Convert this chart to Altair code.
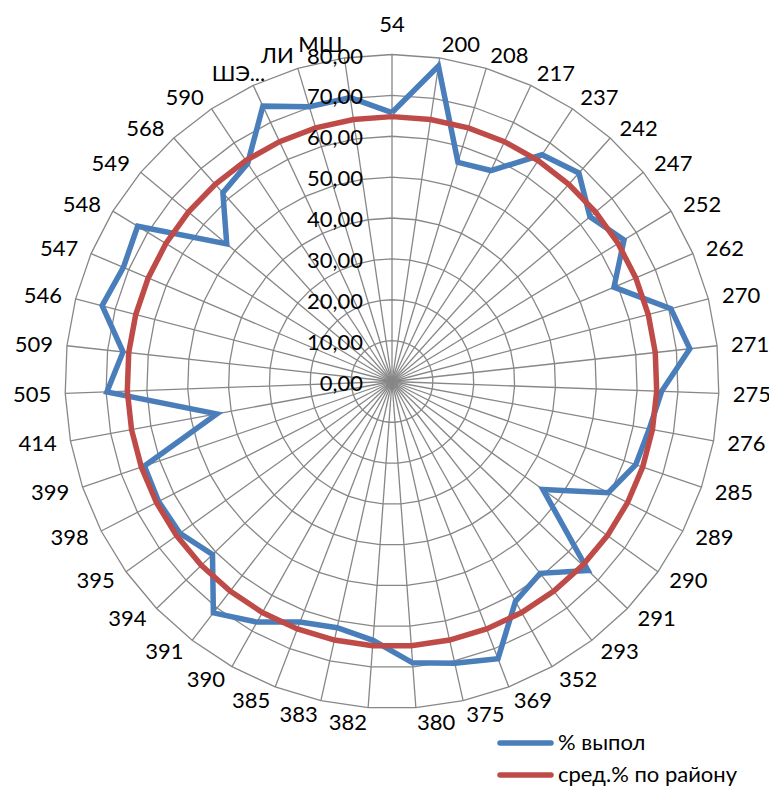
import math
import altair as alt
import pandas as pd

# ---------------- data ----------------
categories = ["54", "200", "208", "217", "237", "242", "247", "252", "262", "270",
              "271", "275", "276", "285", "289", "290", "291", "293", "352", "369",
              "375", "380", "382", "383", "385", "390", "391", "394", "395", "398",
              "399", "414", "505", "509", "546", "547", "548", "549", "568", "590",
              "ШЭ...", "ЛИ", "МШ"]

pct_done = [65.8, 78.0, 56.0, 57.0, 66.5, 68.5, 63.0, 66.5, 59.0, 70.5,
            73.3, 66.0, 64.0, 63.0, 59.5, 45.4, 66.6, 59.3, 61.7, 72.6,
            70.6, 69.0, 63.5, 61.7, 63.0, 67.5, 71.5, 61.0, 63.8, 64.2,
            64.0, 43.6, 69.8, 66.2, 73.3, 71.4, 72.9, 52.6, 62.0, 64.0,
            74.4, 70.2, 70.2]

district_avg = [64.8, 64.8, 64.8, 64.8, 64.8, 64.8, 64.8, 64.8, 64.8, 64.8,
                64.8, 64.8, 64.8, 64.8, 64.8, 64.8, 64.8, 64.8, 64.8, 64.8,
                64.8, 64.8, 64.8, 64.8, 64.8, 64.8, 64.8, 64.8, 64.8, 64.8,
                64.8, 64.8, 64.8, 64.8, 64.8, 64.8, 64.8, 64.8, 64.8, 64.8,
                64.8, 64.8, 64.8]

series_names = ["% выпол", "сред.% по району"]
series_colors = ["#4A7EBB", "#BE4B48"]

grid_levels = [10, 20, 30, 40, 50, 60, 70, 80]
tick_values = [0, 10, 20, 30, 40, 50, 60, 70, 80]
tick_labels = ["0,00", "10,00", "20,00", "30,00", "40,00", "50,00", "60,00", "70,00", "80,00"]

# ---------------- layout ----------------
W, H = 761, 779
RMAX = 80
K = 327 / RMAX            # px per unit
CX, CY = 384, 373.5       # centre in plot px
xdom = [-CX / K, (W - CX) / K]
ydom = [-(H - CY) / K, CY / K]
N = len(categories)
LABEL_R = RMAX + 14 / K
FONT = "Lato"
FS = 22
GRID = "#878787"


def ang(i):
    return 2 * math.pi * i / N


# series polygons
rows = []
for s, vals in zip(series_names, [pct_done, district_avg]):
    for j in range(N + 1):
        i = j % N
        v = vals[i]
        rows.append({"series": s, "order": j, "x": v * math.sin(ang(i)), "y": v * math.cos(ang(i))})
series_df = pd.DataFrame(rows)

# rings
ring_rows = []
for lvl in grid_levels:
    for j in range(N + 1):
        i = j % N
        ring_rows.append({"lvl": lvl, "order": j, "x": lvl * math.sin(ang(i)), "y": lvl * math.cos(ang(i))})
ring_df = pd.DataFrame(ring_rows)

# spokes
spoke_df = pd.DataFrame([{"x0": 0.0, "y0": 0.0,
                          "x1": RMAX * math.sin(ang(i)), "y1": RMAX * math.cos(ang(i))}
                         for i in range(N)])

# category labels
lab_df = pd.DataFrame([{"label": c, "i": i,
                        "x": LABEL_R * math.sin(ang(i)), "y": LABEL_R * math.cos(ang(i))}
                       for i, c in enumerate(categories)])

tick_df = pd.DataFrame({"v": tick_values, "label": tick_labels})
tick_df["x"] = -29 / K
tick_df["y"] = tick_df["v"]

xs = alt.Scale(domain=xdom, nice=False, zero=False)
ys = alt.Scale(domain=ydom, nice=False, zero=False)
X = lambda f: alt.X(f, type="quantitative", scale=xs, axis=None)
Y = lambda f: alt.Y(f, type="quantitative", scale=ys, axis=None)

rings = alt.Chart(ring_df).mark_line(color=GRID, strokeWidth=1.3).encode(
    x=X("x"), y=Y("y"), detail="lvl:N", order="order:Q")

spokes = alt.Chart(spoke_df).mark_rule(color=GRID, strokeWidth=1.3).encode(
    x=X("x0"), y=Y("y0"), x2="x1", y2="y1")

lines = alt.Chart(series_df).mark_line(strokeWidth=5.5, strokeJoin="miter").encode(
    x=X("x"), y=Y("y"), order="order:Q",
    color=alt.Color("series:N", scale=alt.Scale(domain=series_names, range=series_colors), legend=None))

txt = dict(font=FONT, fontSize=FS, color="black")
lab_top = alt.Chart(lab_df).transform_filter("datum.i == 0").mark_text(
    align="center", baseline="middle", dy=-16, **txt).encode(x=X("x"), y=Y("y"), text="label:N")
lab_right = alt.Chart(lab_df).transform_filter("datum.i > 0 && datum.i < %d" % ((N + 1) // 2)).mark_text(
    align="left", baseline="middle", dy=1, **txt).encode(x=X("x"), y=Y("y"), text="label:N")
lab_left = alt.Chart(lab_df).transform_filter(
    "datum.i >= %d && datum.label != 'ШЭ...'" % ((N + 1) // 2)).mark_text(
    align="right", baseline="middle", dy=1, **txt).encode(x=X("x"), y=Y("y"), text="label:N")
lab_trunc = alt.Chart(lab_df).transform_filter("datum.label == 'ШЭ...'").mark_text(
    align="right", baseline="middle", dy=1, dx=18, **txt).encode(x=X("x"), y=Y("y"), text="label:N")

ticks = alt.Chart(tick_df).mark_text(align="right", baseline="middle", dy=2, **txt).encode(
    x=X("x"), y=Y("y"), text="label:N")

# legend (layout positions in px)
leg_df = pd.DataFrame({"series": series_names, "row": [0, 1]})
leg_y = alt.Y("row:Q", scale=alt.Scale(domain=[0, 1], range=[735, 767], nice=False, zero=False), axis=None)
leg_lines = alt.Chart(leg_df).mark_rule(strokeWidth=5.5, strokeCap="round").encode(
    x=alt.value(492), x2=alt.value(543), y=leg_y,
    color=alt.Color("series:N", scale=alt.Scale(domain=series_names, range=series_colors), legend=None))
leg_text = alt.Chart(leg_df).mark_text(align="left", baseline="middle", **txt).encode(
    x=alt.value(550), y=leg_y, text="series:N")

chart = alt.layer(rings, spokes, lines, ticks, lab_top, lab_right, lab_left, lab_trunc,
                  leg_lines, leg_text).resolve_scale(y="independent").properties(
    width=W, height=H, padding=0, autosize="none"
).configure_view(stroke=None)

chart.save("out.html", embed_options={"renderer": "svg", "actions": False})
